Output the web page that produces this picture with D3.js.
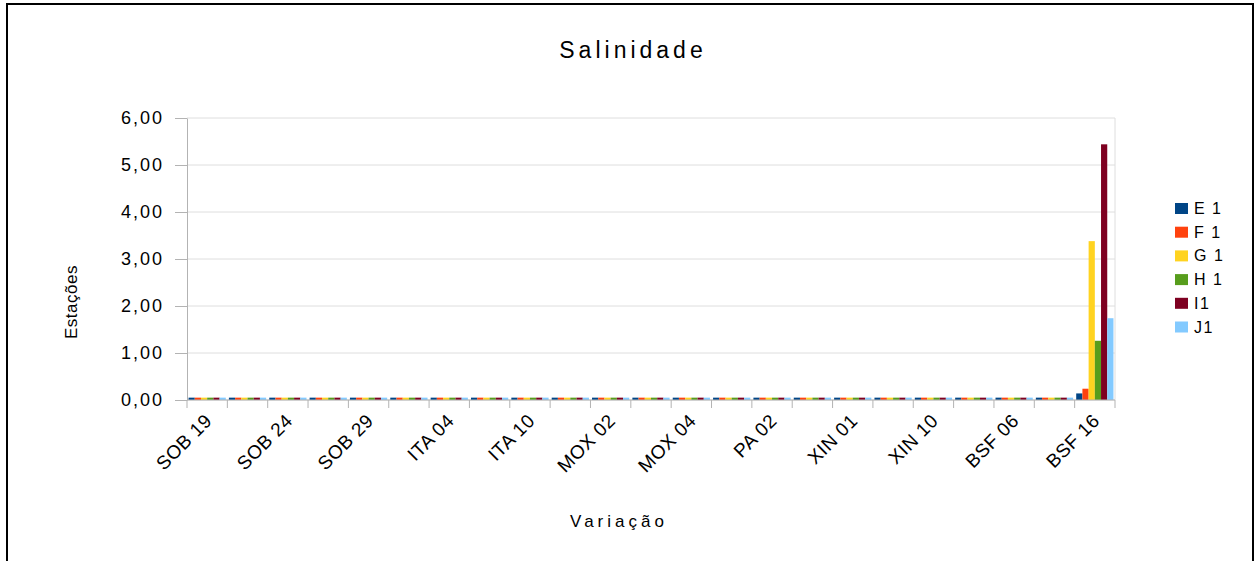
<!doctype html>
<html>
<head>
    <meta charset="utf-8">
    <script src="https://d3js.org/d3.v7.min.js"></script>
    <style type="text/css">
        body { margin: 0; background: #fff; }
        svg { font-family: "Liberation Sans", Arial, sans-serif; }
        .grid line { stroke: #dedede; stroke-width: 1px; }
        .axis path, .axis line { stroke: #b3b3b3; }
        .axis text { fill: #000; font-size: 18px; letter-spacing: 2px; }
        .axis text.xlbl { font-size: 19px; letter-spacing: 0.5px; }
        .legend text { font-size: 16px; letter-spacing: 1.5px; }
    </style>
</head>
<body>
<svg id="board" width="1255" height="561"></svg>
<script type="text/javascript">
    // 23 stations; only every other one gets a label on the axis
    var categories = ["SOB 19", "SOB 21", "SOB 24", "SOB 27", "SOB 29", "ITA 01", "ITA 04", "ITA 07",
        "ITA 10", "MOX 01", "MOX 02", "MOX 03", "MOX 04", "PA 01", "PA 02", "PA 03",
        "XIN 01", "XIN 05", "XIN 10", "BSF 01", "BSF 06", "BSF 11", "BSF 16"];
    var tickLabels = ["SOB 19", "SOB 24", "SOB 29", "ITA 04", "ITA 10", "MOX 02",
        "MOX 04", "PA 02", "XIN 01", "XIN 10", "BSF 06", "BSF 16"];
    var seriesNames = ["E 1", "F 1", "G 1", "H 1", "I1", "J1"];
    var seriesColors = ["#004586", "#ff420e", "#ffd320", "#579d1c", "#7e0021", "#83caff"];
    var yTicks = [0, 1, 2, 3, 4, 5, 6];

    var base = 0.05;
    var E1 = [base, base, base, base, base, base, base, base, base, base, base, base, base, base, base, base, base, base, base, base, base, base, 0.14];
    var F1 = [base, base, base, base, base, base, base, base, base, base, base, base, base, base, base, base, base, base, base, base, base, base, 0.24];
    var G1 = [base, base, base, base, base, base, base, base, base, base, base, base, base, base, base, base, base, base, base, base, base, base, 3.38];
    var H1 = [base, base, base, base, base, base, base, base, base, base, base, base, base, base, base, base, base, base, base, base, base, base, 1.26];
    var I1 = [base, base, base, base, base, base, base, base, base, base, base, base, base, base, base, base, base, base, base, base, base, base, 5.44];
    var J1 = [base, base, base, base, base, base, base, base, base, base, base, base, base, base, base, base, base, base, base, base, base, base, 1.74];
    var series = [E1, F1, G1, H1, I1, J1];

    var svg = d3.select("#board");
    var plotL = 187, plotR = 1115, plotT = 118, plotB = 400;

    // outer frame
    svg.append("rect")
        .attr("x", 7).attr("y", 4)
        .attr("width", 1246).attr("height", 570)
        .attr("fill", "none").attr("stroke", "#000").attr("stroke-width", 2);

    var x = d3.scaleBand().domain(categories).range([plotL, plotR]).padding(0);
    var x1 = d3.scaleBand().domain(d3.range(series.length))
        .range([0, x.bandwidth()]).paddingOuter(0.25).paddingInner(0);
    var y = d3.scaleLinear().domain([0, 6]).range([plotB, plotT]);

    svg.append("g").attr("class", "grid")
        .selectAll("line").data(yTicks).enter().append("line")
        .attr("x1", plotL).attr("x2", plotR)
        .attr("y1", function(d) { return y(d); })
        .attr("y2", function(d) { return y(d); });

    svg.append("line")
        .attr("x1", plotR).attr("x2", plotR).attr("y1", plotT).attr("y2", plotB)
        .attr("stroke", "#dedede");

    // bars
    var bars = svg.append("g");
    series.forEach(function(vals, s) {
        bars.append("g").attr("fill", seriesColors[s])
            .selectAll("rect").data(vals).enter().append("rect")
            .attr("x", function(d, i) { return x(categories[i]) + x1(s); })
            .attr("width", x1.bandwidth())
            .attr("y", function(d) { return y(d); })
            .attr("height", function(d) { return y(0) - y(d); });
    });

    // y axis
    var yAxis = d3.axisLeft(y).tickValues(yTicks).tickSizeInner(12).tickSizeOuter(0).tickPadding(11)
        .tickFormat(function(d) { return d3.format(".2f")(d).replace(".", ","); });
    svg.append("g").attr("class", "axis").attr("transform", "translate(" + plotL + ",0)").call(yAxis);

    // x axis: ticks at category boundaries
    var xg = svg.append("g").attr("class", "axis");
    xg.append("line").attr("x1", plotL).attr("x2", plotR).attr("y1", plotB).attr("y2", plotB);
    xg.selectAll(".tk").data(d3.range(categories.length + 1)).enter().append("line")
        .attr("x1", function(i) { return plotL + i * x.bandwidth(); })
        .attr("x2", function(i) { return plotL + i * x.bandwidth(); })
        .attr("y1", plotB).attr("y2", plotB + 8);
    xg.selectAll(".lbl").data(tickLabels).enter().append("text")
        .attr("class", "xlbl")
        .attr("text-anchor", "end")
        .attr("transform", function(d, i) {
            var cx = x(categories[i * 2]) + x.bandwidth() / 2 + 6;
            return "translate(" + cx + "," + (plotB + 22) + ") rotate(-45)";
        })
        .text(function(d) { return d; });

    // titles
    svg.append("text").attr("x", 633).attr("y", 58).attr("text-anchor", "middle")
        .style("font-size", "23px").style("letter-spacing", "4px").text("Salinidade");
    svg.append("text").attr("x", 619).attr("y", 527).attr("text-anchor", "middle")
        .style("font-size", "17px").style("letter-spacing", "4px").text("Variação");
    svg.append("text").attr("transform", "translate(77,302) rotate(-90)").attr("text-anchor", "middle")
        .style("font-size", "17px").style("letter-spacing", "0.5px").text("Estações");

    // legend
    var lg = svg.append("g").attr("class", "legend");
    var item = lg.selectAll("g").data(seriesNames).enter().append("g")
        .attr("transform", function(d, i) { return "translate(1175," + (203 + i * 23.7) + ")"; });
    item.append("rect").attr("width", 13).attr("height", 11)
        .attr("fill", function(d, i) { return seriesColors[i]; });
    item.append("text").attr("x", 19).attr("y", 11).text(function(d) { return d; });
</script>
</body>
</html>
